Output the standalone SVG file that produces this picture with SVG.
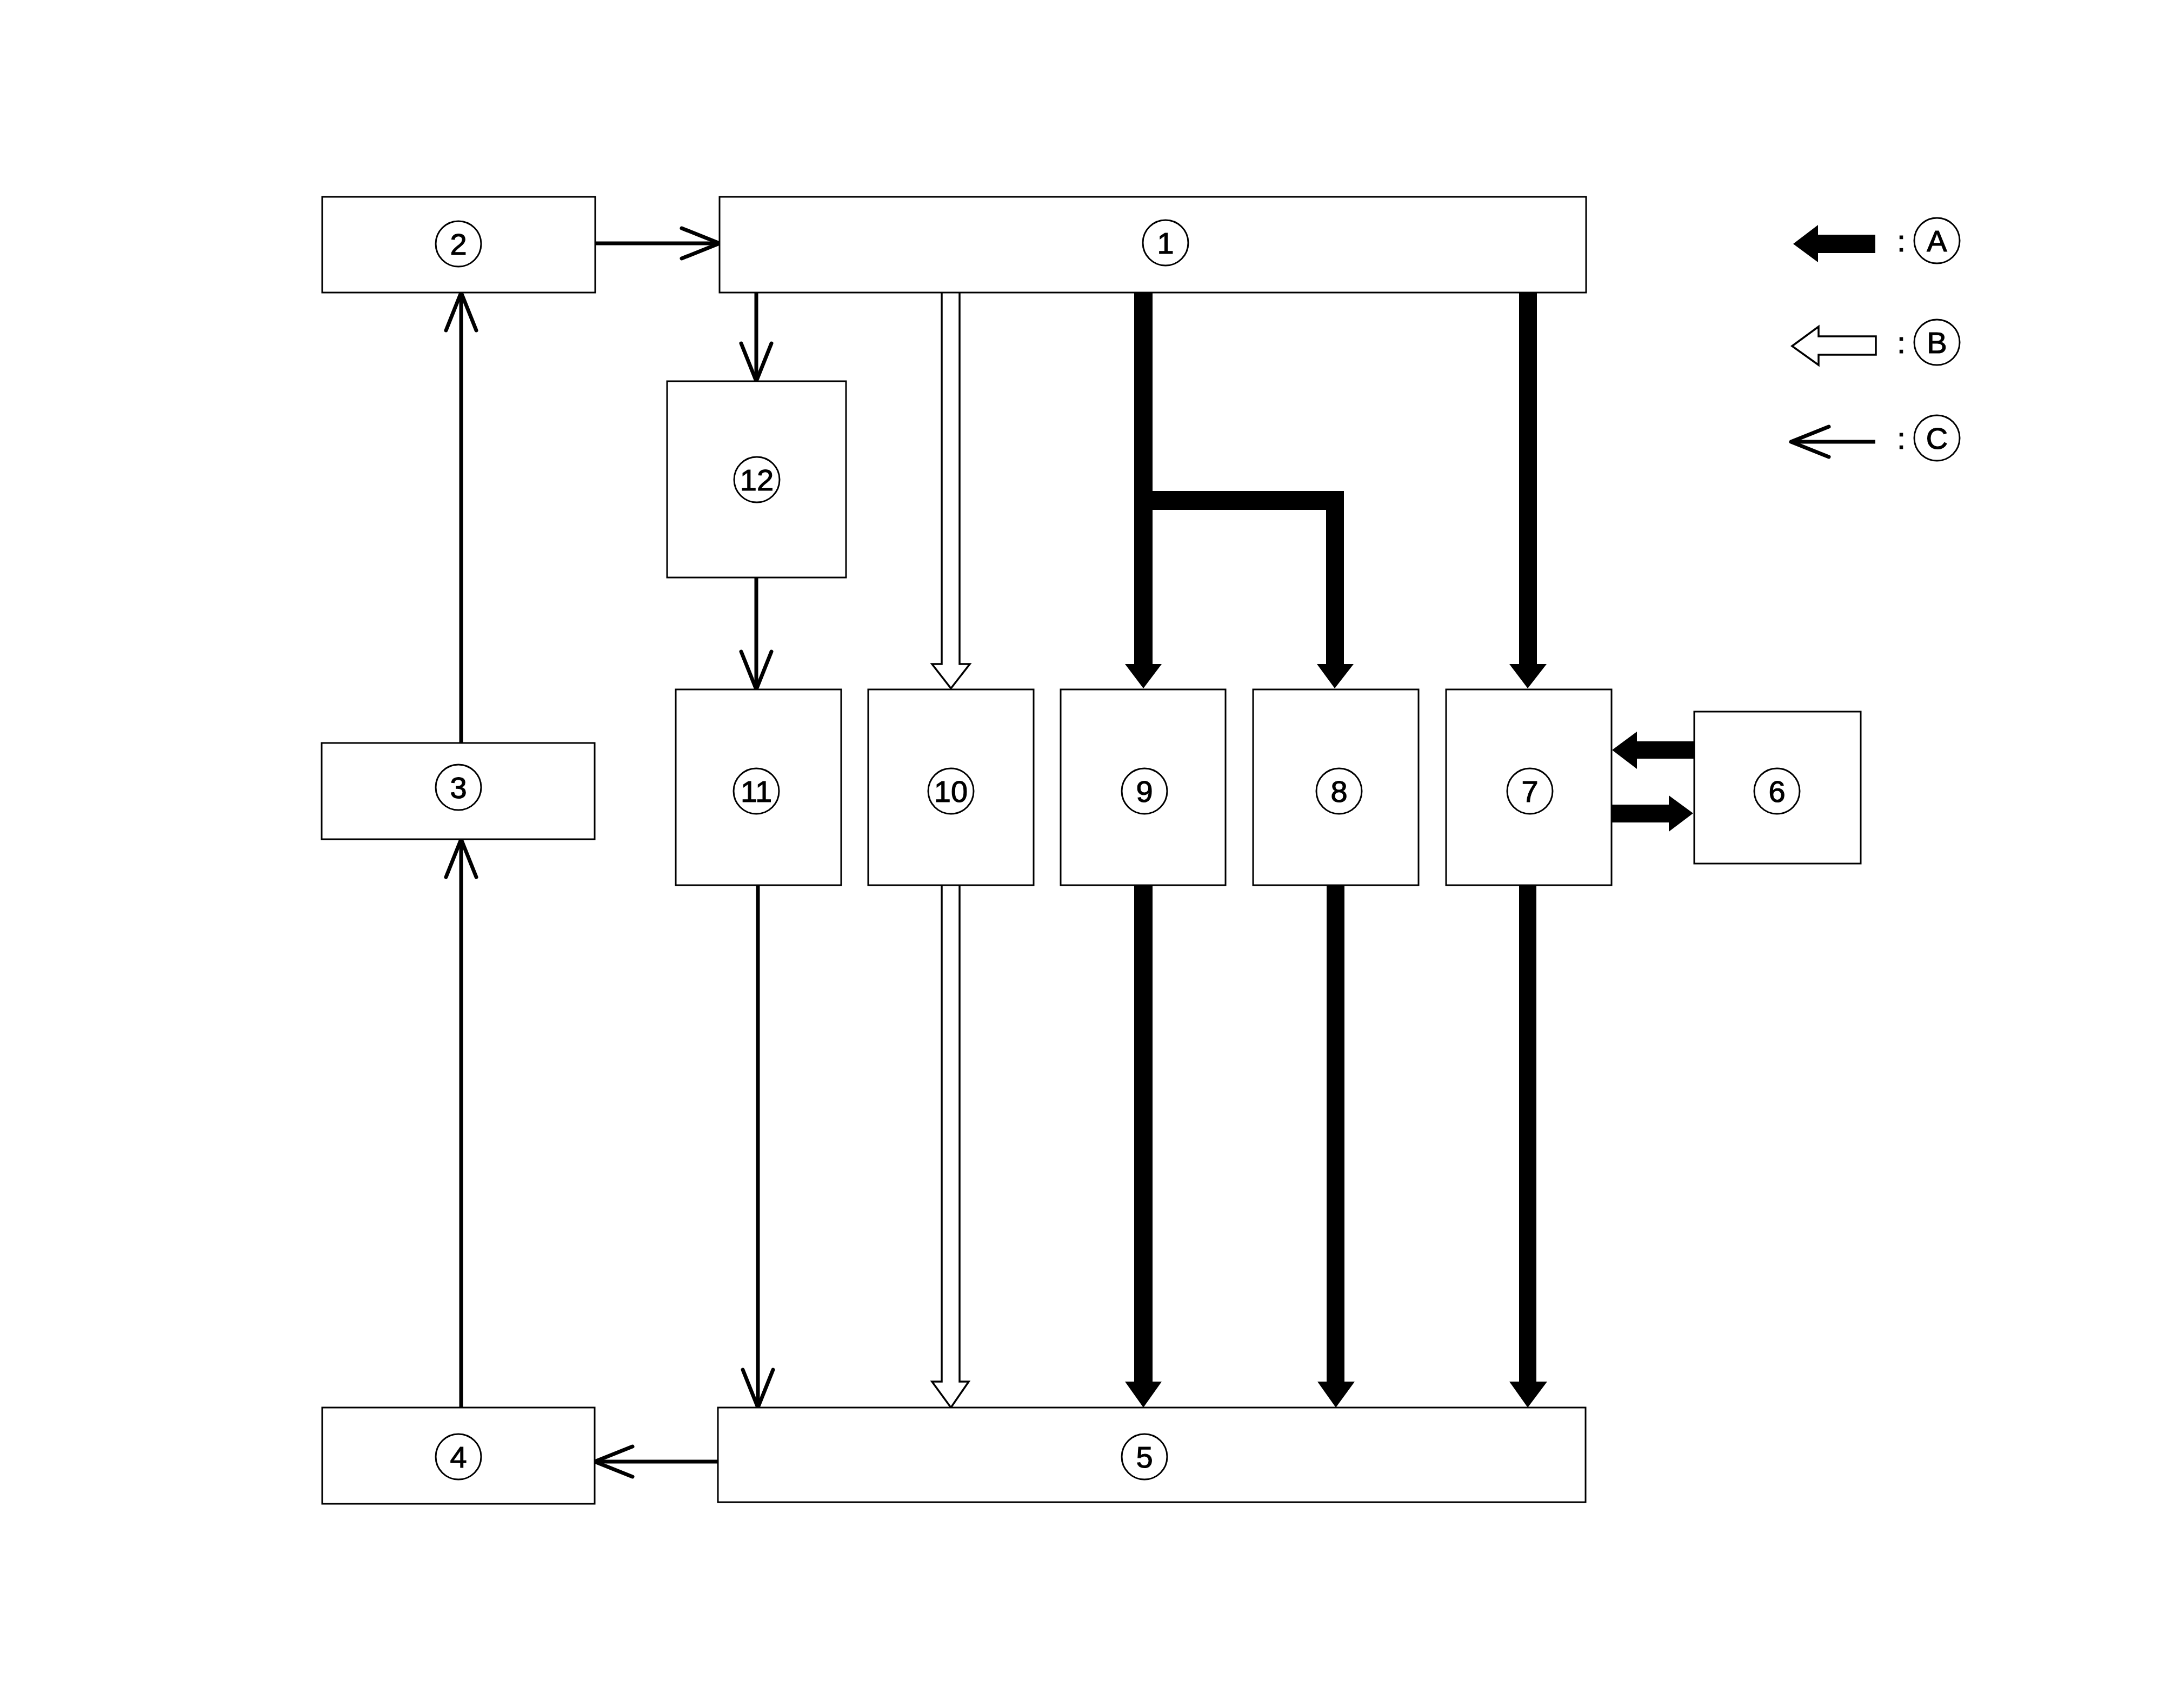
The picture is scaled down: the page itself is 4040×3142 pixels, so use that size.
<svg xmlns="http://www.w3.org/2000/svg" width="4040" height="3142" viewBox="0 0 4040 3142">
<style>
.box{fill:#fff;stroke:#000;stroke-width:3}
.ring{fill:none;stroke:#000;stroke-width:3}
.lbl{font-family:"Liberation Sans",Arial,sans-serif;font-size:56px;text-anchor:middle;fill:#000;stroke:#000;stroke-width:1.2}
.thin{fill:none;stroke:#000;stroke-width:7}
.solid{fill:#000;stroke:none}
.hollow{fill:#fff;stroke:#000;stroke-width:3.5;stroke-linejoin:miter}
</style>
<defs>
<marker id="openV" markerUnits="userSpaceOnUse" viewBox="-80 -40 90 80" markerWidth="90" markerHeight="80" refX="0" refY="0" orient="auto" overflow="visible">
<path d="M-70,-28 L0,0 L-70,28" fill="none" stroke="#000" stroke-width="7" stroke-linecap="round" stroke-linejoin="round"/>
</marker>
</defs>
<rect width="4040" height="3142" fill="#fff"/>

<g id="connectors">
<line class="thin" x1="1101" y1="450" x2="1331" y2="450" marker-end="url(#openV)"/>
<line class="thin" x1="1399" y1="541" x2="1399" y2="705" marker-end="url(#openV)"/>
<line class="thin" x1="1399" y1="1068" x2="1399" y2="1275" marker-end="url(#openV)"/>
<line class="thin" x1="1402" y1="1637" x2="1402" y2="2603" marker-end="url(#openV)"/>
<line class="thin" x1="1328" y1="2703" x2="1100" y2="2703" marker-end="url(#openV)"/>
<line class="thin" x1="853" y1="2603" x2="853" y2="1552" marker-end="url(#openV)"/>
<line class="thin" x1="853" y1="1374" x2="853" y2="541" marker-end="url(#openV)"/>
<path class="hollow" d="M1742,541 V1228 H1724 L1759,1273 L1794,1228 H1775 V541"/>
<path class="hollow" d="M1742,1637 V2555 H1724 L1759,2603 L1792,2555 H1775 V1637"/>
<path class="solid" d="M2098,541 V1228 H2081 L2115,1273 L2149,1228 H2132 V943 H2453 V1228 H2436 L2469,1273 L2504,1228 H2486 V908 H2132 V541 Z"/>
<path class="solid" d="M2810,541 V1228 H2792 L2826,1273 L2861,1228 H2843 V541 Z"/>
<path class="solid" d="M2098,1637 V2555 H2081 L2115,2603 L2149,2555 H2132 V1637 Z"/>
<path class="solid" d="M2454,1637 V2555 H2437 L2471,2603 L2506,2555 H2487 V1637 Z"/>
<path class="solid" d="M2810,1637 V2555 H2792 L2826,2603 L2862,2555 H2842 V1637 Z"/>
<path class="solid" d="M3134,1371 H3028 V1353 L2982,1387 L3028,1422 V1403 H3134 Z"/>
<path class="solid" d="M2981,1488 H3087 V1471 L3132,1504 L3087,1538 V1521 H2981 Z"/>
</g>

<g id="node1"><rect class="box" x="1331" y="364" width="1603" height="177"/><circle class="ring" cx="2156" cy="449" r="42"/><text class="lbl" x="2156" y="469">1</text></g>
<g id="node2"><rect class="box" x="596" y="364" width="505" height="177"/><circle class="ring" cx="848" cy="451" r="42"/><text class="lbl" x="848" y="471">2</text></g>
<g id="node3"><rect class="box" x="595" y="1374" width="505" height="178"/><circle class="ring" cx="848" cy="1456" r="42"/><text class="lbl" x="848" y="1476">3</text></g>
<g id="node4"><rect class="box" x="596" y="2603" width="504" height="178"/><circle class="ring" cx="848" cy="2694" r="42"/><text class="lbl" x="848" y="2714">4</text></g>
<g id="node5"><rect class="box" x="1328" y="2603" width="1605" height="175"/><circle class="ring" cx="2117" cy="2694" r="42"/><text class="lbl" x="2117" y="2714">5</text></g>
<g id="node6"><rect class="box" x="3134" y="1316" width="308" height="281"/><circle class="ring" cx="3287" cy="1463" r="42"/><text class="lbl" x="3287" y="1483">6</text></g>
<g id="node7"><rect class="box" x="2675" y="1275" width="306" height="362"/><circle class="ring" cx="2830" cy="1463" r="42"/><text class="lbl" x="2830" y="1483">7</text></g>
<g id="node8"><rect class="box" x="2318" y="1275" width="306" height="362"/><circle class="ring" cx="2477" cy="1463" r="42"/><text class="lbl" x="2477" y="1483">8</text></g>
<g id="node9"><rect class="box" x="1962" y="1275" width="305" height="362"/><circle class="ring" cx="2117" cy="1463" r="42"/><text class="lbl" x="2117" y="1483">9</text></g>
<g id="node10"><rect class="box" x="1606" y="1275" width="306" height="362"/><circle class="ring" cx="1759" cy="1463" r="42"/><text class="lbl" x="1759" y="1483">10</text></g>
<g id="node11"><rect class="box" x="1250" y="1275" width="306" height="362"/><circle class="ring" cx="1399" cy="1463" r="42"/><text class="lbl" x="1399" y="1483">11</text></g>
<g id="node12"><rect class="box" x="1234" y="705" width="331" height="363"/><circle class="ring" cx="1400" cy="887" r="42"/><text class="lbl" x="1400" y="907">12</text></g>

<g id="legend">
<path class="solid" d="M3317,451 L3363,416 V434 H3469 V468 H3363 V485 Z"/>
<text class="lbl" x="3517" y="465">:</text>
<circle class="ring" cx="3583" cy="445" r="42"/><text class="lbl" x="3583" y="465">A</text>
<path class="hollow" d="M3315,640 L3364,604 V622 H3470 V656 H3364 V675 Z"/>
<text class="lbl" x="3517" y="653">:</text>
<circle class="ring" cx="3583" cy="633" r="42"/><text class="lbl" x="3583" y="653">B</text>
<line class="thin" x1="3469" y1="817" x2="3313" y2="817" marker-end="url(#openV)"/>
<text class="lbl" x="3517" y="830">:</text>
<circle class="ring" cx="3583" cy="810" r="42"/><text class="lbl" x="3583" y="830">C</text>
</g>
</svg>
